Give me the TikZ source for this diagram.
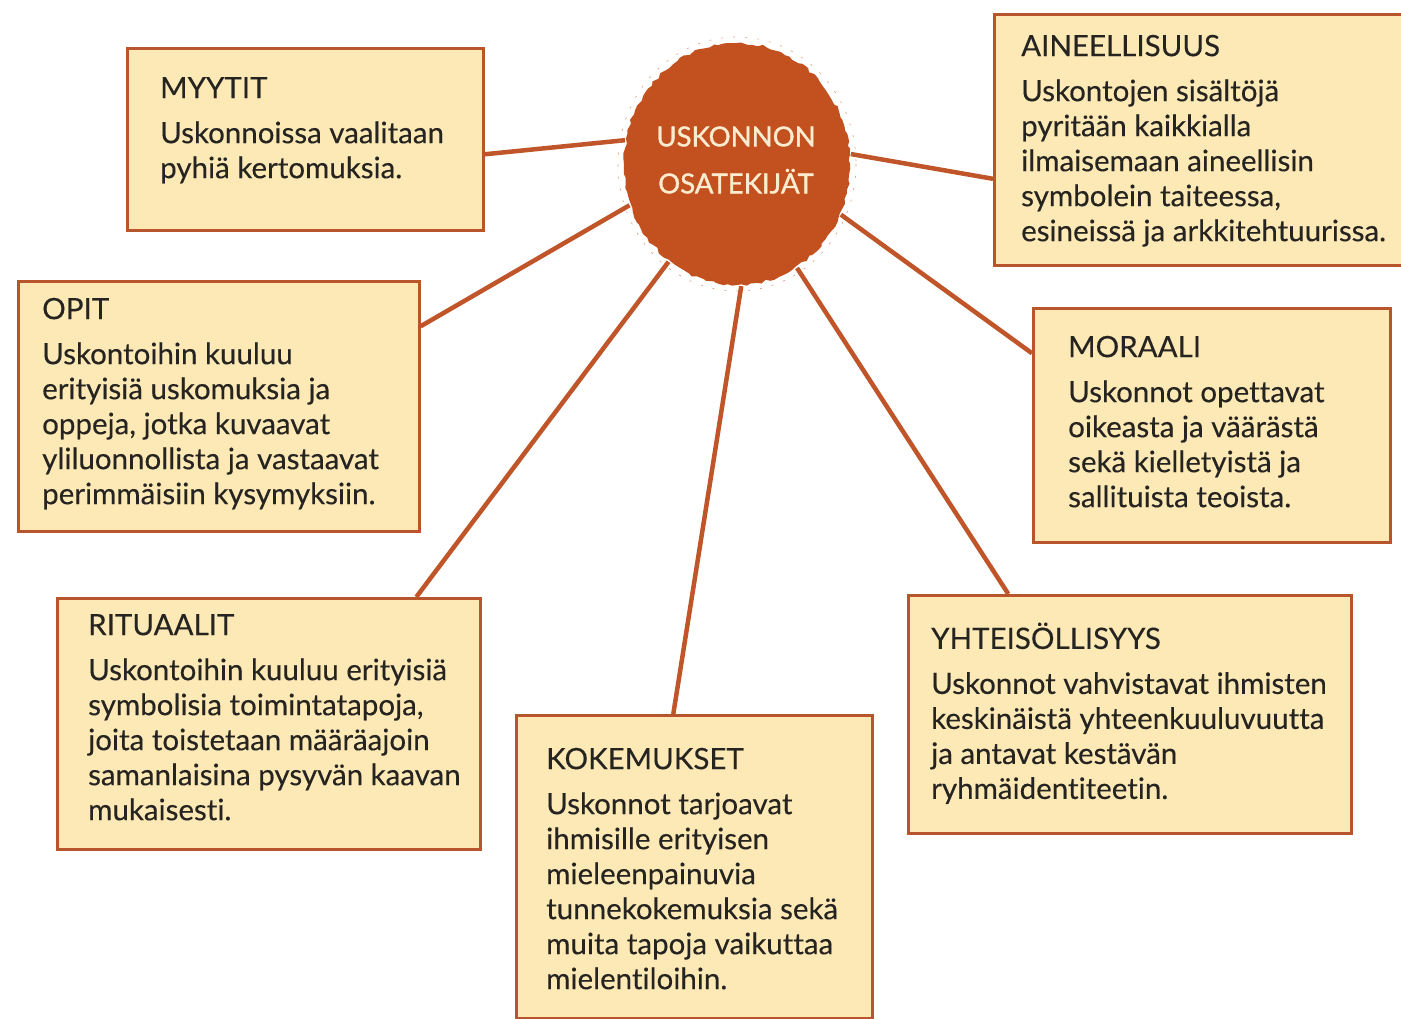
\documentclass[tikz,border=0pt]{standalone}
\usepackage{fontspec}
\setmainfont{Lato}[Ligatures=NoCommon, FakeBold=0.25]
\newfontfamily\circfont{Lato}[Ligatures=NoCommon, FakeBold=1.2]
\usetikzlibrary{shapes.geometric,decorations.pathmorphing}
\definecolor{rust}{HTML}{C2511F}
\definecolor{linecol}{HTML}{BF5528}
\definecolor{boxfill}{HTML}{FCE9B6}
\definecolor{boxline}{HTML}{B8552C}
\definecolor{txt}{HTML}{262420}
\definecolor{cream}{HTML}{FBEBCF}
\tikzset{
  infobox/.style={draw=boxline, line width=2.6pt, fill=boxfill, anchor=north west, inner sep=0pt},
  infotext/.style={anchor=north west, inner sep=0pt, align=left, text=txt, font=\fontsize{29.5}{35}\selectfont},
  conn/.style={draw=linecol, line width=4.5pt},
}
\newcommand{\ttl}[1]{\strut #1\\[10pt]}
\begin{document}
\begin{tikzpicture}[x=1pt,y=-1pt]
\useasboundingbox (0,0) rectangle (1401,1019);
% boxes
\node[infobox, minimum width=356, minimum height=182] (myy) at (126,47) {};
\node[infobox, minimum width=420, minimum height=251] (aine) at (993,13) {};
\node[infobox, minimum width=401, minimum height=250] (opit) at (17,280) {};
\node[infobox, minimum width=357, minimum height=234] (mor) at (1032,307) {};
\node[infobox, minimum width=423, minimum height=251] (rit) at (56,597) {};
\node[infobox, minimum width=443, minimum height=238] (yht) at (907,594) {};
\node[infobox, minimum width=356, minimum height=303] (kok) at (515,714) {};
% texts
\node[infotext] (tmyy) at (160,73.5) {\ttl{MYYTIT}Uskonnoissa vaalitaan\\pyhiä kertomuksia.};
\node[infotext] (taine) at (1021,31.5) {\ttl{AINEELLISUUS}Uskontojen sisältöjä\\pyritään kaikkialla\\ilmaisemaan aineellisin\\symbolein taiteessa,\\esineissä ja arkkitehtuurissa.};
\node[infotext] (topit) at (42,294.5) {\ttl{OPIT}Uskontoihin kuuluu\\erityisiä uskomuksia ja\\oppeja, jotka kuvaavat\\yliluonnollista ja vastaavat\\perimmäisiin kysymyksiin.};
\node[infotext] (tmor) at (1068,332.5) {\ttl{MORAALI}Uskonnot opettavat\\oikeasta ja väärästä\\sekä kielletyistä ja\\sallituista teoista.};
\node[infotext] (trit) at (88,610.5) {\ttl{RITUAALIT}Uskontoihin kuuluu erityisiä\\symbolisia toimintatapoja,\\joita toistetaan määräajoin\\samanlaisina pysyvän kaavan\\mukaisesti.};
\node[infotext] (tyht) at (931,622.5) {\ttl{YHTEISÖLLISYYS}Uskonnot vahvistavat ihmisten\\keskinäistä yhteenkuuluvuutta\\ja antavat kestävän\\ryhmäidentiteetin.};
\node[infotext] (tkok) at (546,744.5) {\ttl{KOKEMUKSET}Uskonnot tarjoavat\\ihmisille erityisen\\mieleenpainuvia\\tunnekokemuksia sekä\\muita tapoja vaikuttaa\\mielentiloihin.};
% centre shape (for anchors)
\node[ellipse, minimum width=228, minimum height=244, inner sep=0pt] (c) at (737,164) {};
% connectors
\draw[conn] ([yshift=-15pt]myy.east) -- (c.168);
\draw[conn] ([yshift=-39pt]aine.west) -- (c.5);
\draw[conn] ([yshift=80pt]opit.east) -- (c.201);
\draw[conn] ([yshift=72pt]mor.west) -- (c.334);
\draw[conn] ([xshift=147.5pt]rit.north) -- (c.235);
\draw[conn] ([xshift=-21pt]kok.north) -- (c.272);
\draw[conn] ([xshift=-121.5pt]yht.north) -- (c.300);
% centre circle drawn on top
\fill[rust, decorate, decoration={random steps, segment length=5pt, amplitude=1.6pt}]
  (737,164) ellipse [x radius=113, y radius=121];
\draw[rust!60!white, line width=0.6pt, dash pattern=on 2pt off 10pt]
  (737,164) ellipse [x radius=119, y radius=127];
\node[align=center, text=cream, font=\circfont\fontsize{27.5}{47}\selectfont] (ctext) at (736,160) {USKONNON\\OSATEKIJÄT};
\end{tikzpicture}
\end{document}
